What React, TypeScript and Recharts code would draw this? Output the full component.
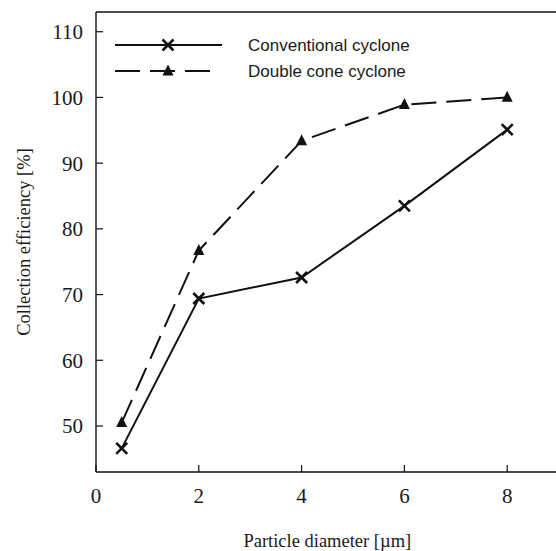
import React from "react";
import {
  LineChart,
  Line,
  XAxis,
  YAxis,
  Legend,
  ReferenceLine,
} from "recharts";

const diameters = [0.5, 2, 4, 6, 8];
const conventional = [46.6, 69.4, 72.6, 83.5, 95.1];
const doubleCone = [50.5, 76.7, 93.4, 98.9, 100.0];
const xTicks = [0, 2, 4, 6, 8];
const yTicks = [50, 60, 70, 80, 90, 100, 110];
const seriesNames = ["Conventional cyclone", "Double cone cyclone"];

const serif = '"Liberation Serif", "Times New Roman", serif';
const sans = '"Liberation Sans", Arial, sans-serif';
const ink = "#111";
const textInk = "#1a1a1a";

const chartData = diameters.map((d, i) => ({
  d,
  conv: conventional[i],
  dbl: doubleCone[i],
}));

// x-shaped marker
function CrossDot(props: any) {
  const { cx, cy } = props;
  if (cx == null || cy == null) return null;
  const s = 5.5;
  return (
    <path
      d={`M${cx - s},${cy - s}L${cx + s},${cy + s}M${cx - s},${cy + s}L${cx + s},${cy - s}`}
      stroke={ink}
      strokeWidth={2.6}
      fill="none"
    />
  );
}

function TriangleDot(props: any) {
  const { cx, cy } = props;
  if (cx == null || cy == null) return null;
  const h = 11;
  const w = 11;
  return (
    <path
      d={`M${cx},${cy - h * 0.6}L${cx + w / 2},${cy + h * 0.4}L${cx - w / 2},${cy + h * 0.4}Z`}
      fill={ink}
    />
  );
}

function XTick({ x, y, payload }: any) {
  return (
    <text x={x} y={y} dy="0.71em" textAnchor="middle" fontFamily={serif} fontSize={21} fill={textInk}>
      {payload.value}
    </text>
  );
}

function YTick({ x, y, payload }: any) {
  return (
    <text x={x} y={y} dy="0.355em" textAnchor="end" fontFamily={serif} fontSize={21} fill={textInk}>
      {payload.value}
    </text>
  );
}

function LegendBox() {
  return (
    <svg width={420} height={90} style={{ display: "block" }}>
      <line x1={115} x2={222} y1={45} y2={45} stroke={ink} strokeWidth={2} />
      <CrossDot cx={168} cy={45} />
      <text x={248} y={51} fontFamily={sans} fontSize={17} fill={textInk}>
        {seriesNames[0]}
      </text>
      <line
        x1={115}
        x2={211}
        y1={71}
        y2={71}
        stroke={ink}
        strokeWidth={2}
        strokeDasharray="25 10"
      />
      <TriangleDot cx={168} cy={71} />
      <text x={248} y={77} fontFamily={sans} fontSize={17} fill={textInk}>
        {seriesNames[1]}
      </text>
    </svg>
  );
}

export default function App() {
  return (
    <div
      style={{
        position: "absolute",
        left: 0,
        top: 0,
        width: 556,
        height: 551,
        overflow: "hidden",
        background: "#fff",
      }}
    >
      <LineChart
        width={560}
        height={551}
        data={chartData}
        margin={{ top: 12, right: 1.4, bottom: 0, left: 0 }}
      >
        <XAxis
          dataKey="d"
          type="number"
          domain={[0, 9]}
          ticks={xTicks}
          tick={<XTick />}
          tickSize={-7}
          tickMargin={23}
          height={79}
          axisLine={{ stroke: ink, strokeWidth: 1.4 }}
          tickLine={{ stroke: ink, strokeWidth: 1.2 }}
          label={{
            value: "Particle diameter [\u00b5m]",
            position: "insideBottom",
            offset: 4,
            style: { fontFamily: serif, fontSize: 18.5, fill: textInk },
          }}
        />
        <YAxis
          type="number"
          domain={[43, 113]}
          ticks={yTicks}
          tick={<YTick />}
          tickSize={-7}
          tickMargin={20}
          width={96}
          allowDataOverflow
          axisLine={{ stroke: ink, strokeWidth: 1.4 }}
          tickLine={{ stroke: ink, strokeWidth: 1.2 }}
          label={{
            value: "Collection efficiency [%]",
            angle: -90,
            position: "insideLeft",
            offset: 23,
            style: {
              fontFamily: serif,
              fontSize: 18.5,
              fill: textInk,
              textAnchor: "middle",
            },
          }}
        />
        <ReferenceLine y={113} stroke={ink} strokeWidth={1.4} />
        <Legend
          layout="horizontal"
          verticalAlign="middle"
          align="center"
          content={() => <LegendBox />}
          wrapperStyle={{ position: "absolute", left: 0, top: 0, width: 420, height: 90 }}
        />
        <Line
          type="linear"
          dataKey="conv"
          name={seriesNames[0]}
          stroke={ink}
          strokeWidth={2}
          dot={<CrossDot />}
          activeDot={false}
          isAnimationActive={false}
        />
        <Line
          type="linear"
          dataKey="dbl"
          name={seriesNames[1]}
          stroke={ink}
          strokeWidth={2}
          strokeDasharray="25 10"
          dot={<TriangleDot />}
          activeDot={false}
          isAnimationActive={false}
        />
      </LineChart>
    </div>
  );
}
